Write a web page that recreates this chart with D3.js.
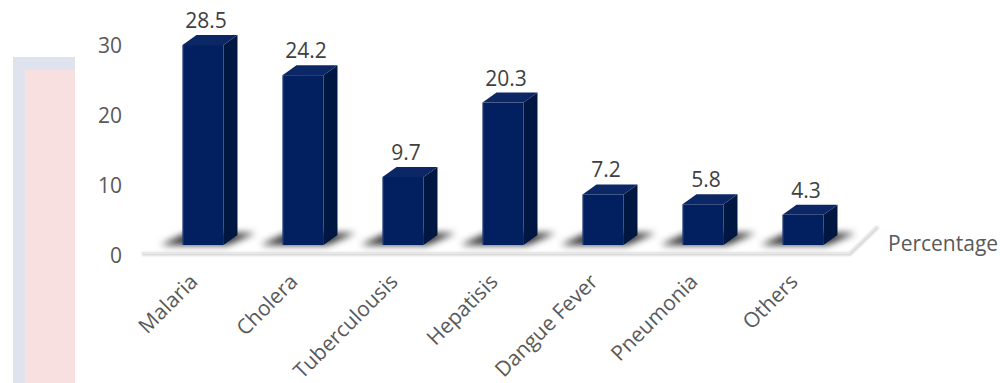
<!DOCTYPE html>
<html>
<head>
<meta charset="utf-8">
<script src="https://cdn.jsdelivr.net/npm/d3@7"></script>
<style>
  html, body { margin: 0; padding: 0; background: #ffffff; }
  svg { display: block; }
  text { font-family: "Open Sans", "Noto Sans", sans-serif; }
</style>
</head>
<body>
<svg id="chart" width="1000" height="383"></svg>
<script>
// ---- data ----
const categories = ["Malaria", "Cholera", "Tuberculousis", "Hepatisis", "Dangue Fever", "Pneumonia", "Others"];
const values = [28.5, 24.2, 9.7, 20.3, 7.2, 5.8, 4.3];
const tickValues = [0, 10, 20, 30];
const seriesName = "Percentage";

const svg = d3.select("#chart");
const W = 1000, H = 383;
const FS = 21;

// decorative panel on the left
svg.append("rect").attr("x", 13).attr("y", 57).attr("width", 62).attr("height", H - 57).attr("fill", "#dfe3ee");
svg.append("rect").attr("x", 25).attr("y", 70).attr("width", 50).attr("height", H - 70).attr("fill", "#f8dfe0");

const defs = svg.append("defs");
defs.append("filter").attr("id", "blur").attr("x", "-50%").attr("y", "-100%").attr("width", "200%").attr("height", "300%")
  .append("feGaussianBlur").attr("stdDeviation", 3.5);
defs.append("filter").attr("id", "blur2").attr("x", "-10%").attr("y", "-100%").attr("width", "120%").attr("height", "300%")
  .append("feGaussianBlur").attr("stdDeviation", 1);

const x = d3.scaleBand().domain(categories).range([153, 853]).paddingInner(0.59).paddingOuter(0.295);
const y = d3.scaleLinear().domain([0, 30]).range([245, 34.5]);
const dx = 14, dy = 10;
const base = y(0);

// floor
const floorY = base + 9;
svg.append("path")
  .attr("d", `M142,${floorY} L850,${floorY} L878,${floorY - 27}`)
  .attr("fill", "none").attr("stroke", "#cfcfcf").attr("stroke-width", 3).attr("filter", "url(#blur2)");
svg.append("path")
  .attr("d", `M142,${floorY - 1} L849,${floorY - 1} L877,${floorY - 28}`)
  .attr("fill", "none").attr("stroke", "#e8e8e8").attr("stroke-width", 2);

// y axis labels
const yAxis = d3.axisLeft(y).tickValues(tickValues).tickSize(0).tickPadding(0);
const gy = svg.append("g").attr("transform", "translate(122,11)").call(yAxis);
gy.select(".domain").remove();
gy.selectAll("text").attr("font-size", FS).attr("fill", "#595959").attr("font-family", "Open Sans");

// shadows
const gShadow = svg.append("g").attr("filter", "url(#blur)");
categories.forEach((c, i) => {
  const x0 = x(c), x1 = x(c) + x.bandwidth();
  gShadow.append("path")
    .attr("d", `M${x0 - 22},${base} L${x1 + 4},${base} L${x1 + 32},${base - 12} L${x0 + 4},${base - 12} Z`)
    .attr("fill", "#000").attr("opacity", 0.8);
});

// bars
const gBars = svg.append("g");
categories.forEach((c, i) => {
  const v = values[i];
  const x0 = x(c), x1 = x(c) + x.bandwidth(), yt = y(v);
  const g = gBars.append("g");
  // side face
  g.append("path")
    .attr("d", `M${x1},${yt} L${x1 + dx},${yt - dy} L${x1 + dx},${base - dy} L${x1},${base} Z`)
    .attr("fill", "#001742");
  // top face
  g.append("path")
    .attr("d", `M${x0},${yt} L${x0 + dx},${yt - dy} L${x1 + dx},${yt - dy} L${x1},${yt} Z`)
    .attr("fill", "#0c2766");
  // front face
  g.append("rect")
    .attr("x", x0).attr("y", yt).attr("width", x.bandwidth()).attr("height", base - yt)
    .attr("fill", "#02205f");
  g.append("line")
    .attr("x1", x0 + 0.5).attr("x2", x0 + 0.5).attr("y1", yt).attr("y2", base)
    .attr("stroke", "#4a64a0").attr("stroke-width", 1).attr("opacity", 0.6);
  // value label
  svg.append("text")
    .attr("x", x0 + x.bandwidth() / 2 + 3).attr("y", yt - dy - 7)
    .attr("text-anchor", "middle").attr("font-size", FS).attr("fill", "#404040")
    .text(v.toFixed(1));
});

// category labels
const gx = svg.append("g");
categories.forEach((c) => {
  const cx = x(c) + x.bandwidth() / 2 - 4;
  gx.append("text")
    .attr("transform", `translate(${cx},283) rotate(-45)`)
    .attr("text-anchor", "end").attr("font-size", FS).attr("fill", "#595959")
    .text(c);
});

// series label
svg.append("text").attr("x", 888).attr("y", 251).attr("font-size", FS).attr("fill", "#595959").text(seriesName);
</script>
</body>
</html>
